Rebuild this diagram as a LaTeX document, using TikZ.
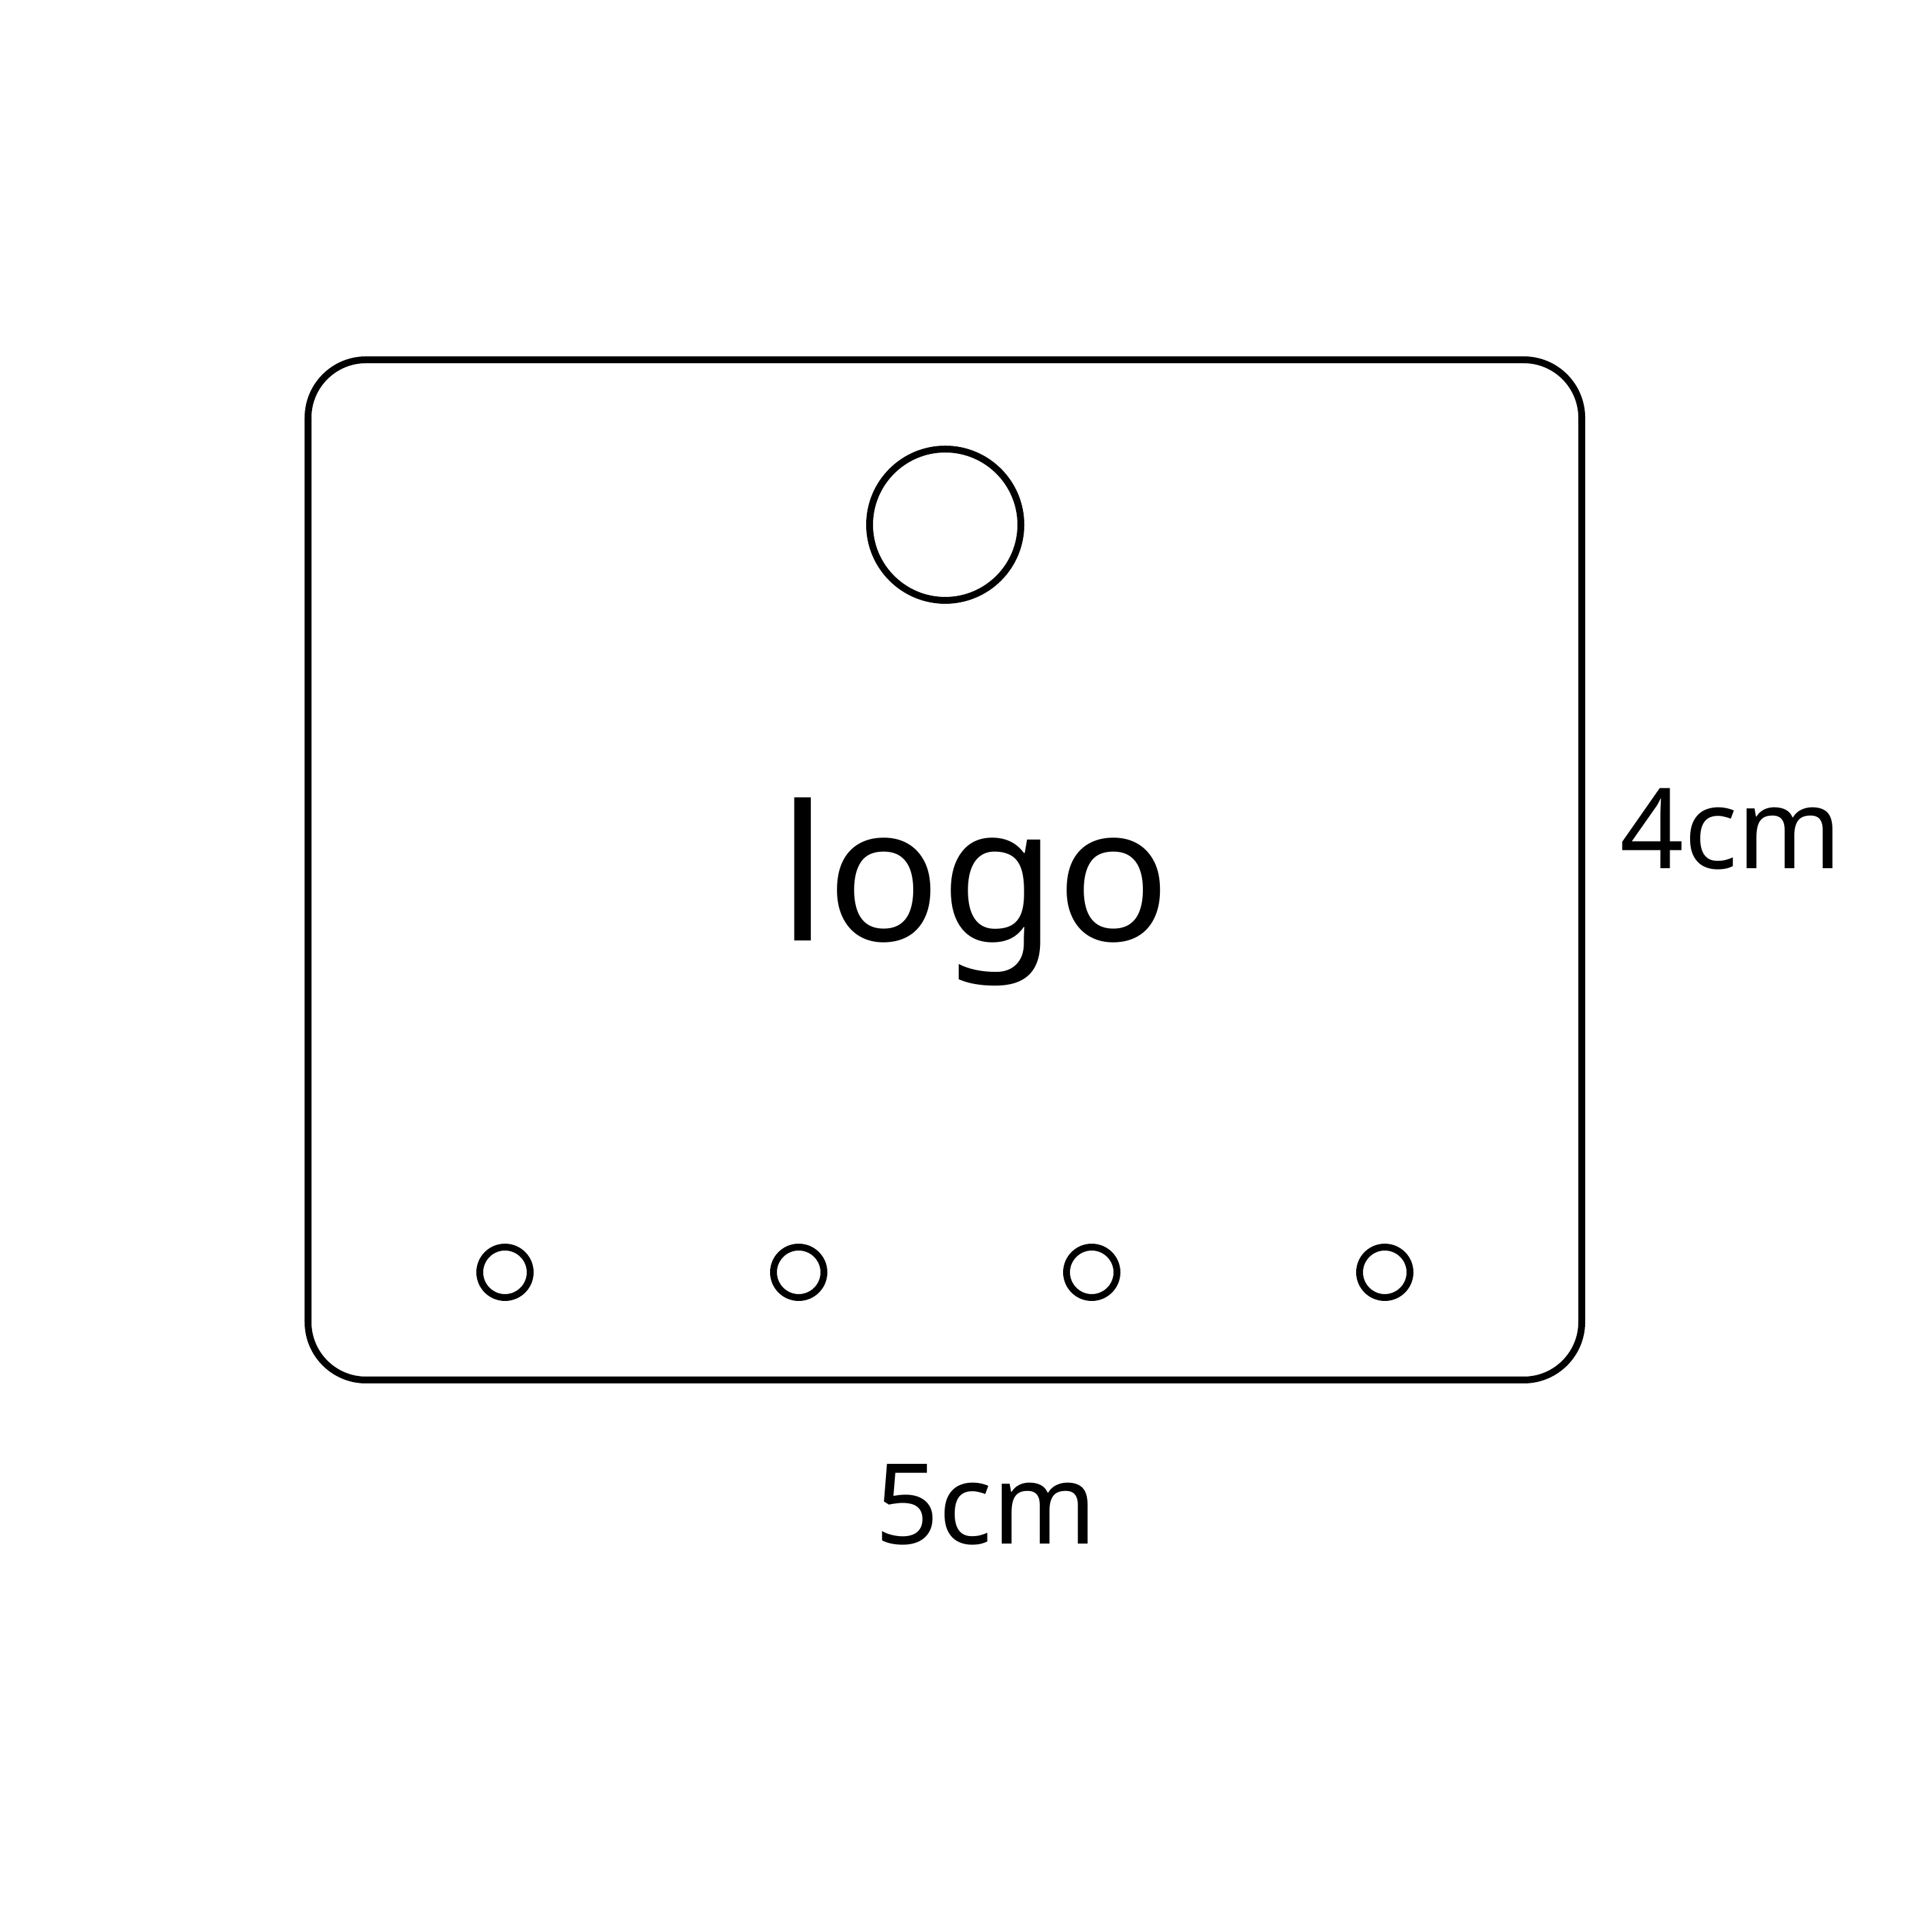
\documentclass[tikz,border=0pt]{standalone}
\usepackage{fontspec}
\setmainfont{Noto Sans}
\usepackage{tikz}

\begin{document}
\begin{tikzpicture}[scale=1]
        \useasboundingbox (0,0) rectangle (28.35,28.35);
        \draw[line width=2.85pt, rounded corners=0.85cm] (4.52,8.10) rectangle (23.21,23.07);
        \draw[line width=2.85pt] (13.87,20.65) circle[radius=1.11];
        \foreach \x in {7.41,11.72,16.02,20.32}
            \draw[line width=2.85pt] (\x,9.68) circle[radius=0.37];
        \node[anchor=base, inner sep=0] (logo) at (14.30,14.54) {\fontsize{78.6}{90}\selectfont logo};
        \node[anchor=base, inner sep=0] (height) at (25.40,15.60) {\fontsize{46.6}{56}\selectfont 4cm};
        \node[anchor=base, inner sep=0] (width) at (14.47,5.69) {\fontsize{46.6}{56}\selectfont 5cm};
    \end{tikzpicture}
\end{document}
